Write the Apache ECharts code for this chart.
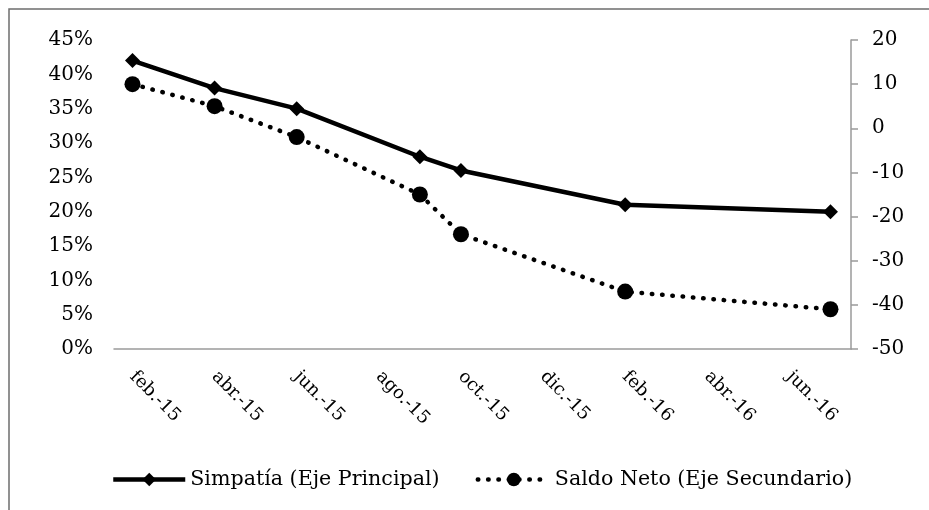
<!DOCTYPE html>
<html>
<head>
<meta charset="utf-8">
<script src="https://cdn.jsdelivr.net/npm/echarts@6/dist/echarts.min.js"></script>
<style>
html,body{margin:0;padding:0;background:#fff;}
#c{width:929px;height:510px;}
</style>
</head>
<body>
<div id="c"></div>
<script>
// months since feb-2015
const monthIndex = [0, 2, 4, 7, 8, 12, 17];
const simpatia = [42, 38, 35, 28, 26, 21, 20];      // %
const saldoNeto = [10, 5, -2, -15, -24, -37, -41];
const xTickValues = [0, 2, 4, 6, 8, 10, 12, 14, 16];
const xTickLabels = ['feb.-15', 'abr.-15', 'jun.-15', 'ago.-15', 'oct.-15', 'dic.-15', 'feb.-16', 'abr.-16', 'jun.-16'];

const FONT = '"DejaVu Serif", "Liberation Serif", serif';
const chart = echarts.init(document.getElementById('c'));
const labelMap = {};
xTickValues.forEach((v, i) => labelMap[v] = xTickLabels[i]);

chart.setOption({
  animation: false,
  backgroundColor: '#fff',
  textStyle: { fontFamily: FONT, color: '#000' },
  graphic: [{
    type: 'rect', shape: { x: 9, y: 9, width: 1000, height: 1000 },
    style: { fill: 'none', stroke: '#6e6e6e', lineWidth: 1.5 }, silent: true
  }],
  grid: { left: 114, right: 78, top: 40, bottom: 161, containLabel: false },
  legend: {
    left: 106, top: 464, itemWidth: 72, itemHeight: 17, itemGap: 36,
    textStyle: { fontFamily: FONT, fontSize: 20.6, color: '#000' },
    data: [
      { name: 'Simpatía (Eje Principal)', lineStyle: { width: 4.5 } },
      { name: 'Saldo Neto (Eje Secundario)', lineStyle: { width: 4.5 } }
    ]
  },
  xAxis: {
    type: 'value', min: -0.45, max: 17.5,
    axisLine: { show: true, lineStyle: { color: '#9a9a9a', width: 1.5 } },
    axisTick: { show: false },
    splitLine: { show: false },
    axisLabel: {
      customValues: xTickValues,
      formatter: v => labelMap[v] || '',
      rotate: -45, margin: 25,
      fontFamily: FONT, fontSize: 18, color: '#000'
    }
  },
  yAxis: [{
    type: 'value', min: 0, max: 45, interval: 5, position: 'left',
    axisLine: { show: false }, axisTick: { show: false }, splitLine: { show: false },
    axisLabel: { formatter: '{value}%', margin: 21, fontFamily: FONT, fontSize: 20, color: '#000' }
  }, {
    type: 'value', min: -50, max: 20, interval: 10, position: 'right',
    axisLine: { show: true, lineStyle: { color: '#9a9a9a', width: 1.5 } },
    axisTick: { show: true, inside: false, length: 7, lineStyle: { color: '#9a9a9a', width: 1.5 } },
    splitLine: { show: false },
    axisLabel: { margin: 21, fontFamily: FONT, fontSize: 20, color: '#000' }
  }],
  series: [{
    name: 'Simpatía (Eje Principal)', type: 'line', yAxisIndex: 0,
    data: monthIndex.map((m, i) => [m, simpatia[i]]),
    symbol: 'diamond', symbolSize: 15,
    lineStyle: { color: '#000', width: 4.5 },
    itemStyle: { color: '#000' }
  }, {
    name: 'Saldo Neto (Eje Secundario)', type: 'line', yAxisIndex: 1,
    data: monthIndex.map((m, i) => [m, saldoNeto[i]]),
    symbol: 'circle', symbolSize: 16,
    lineStyle: { color: '#000', width: 4.5, type: [0.5, 9.8], cap: 'round' },
    itemStyle: { color: '#000' }
  }]
});
</script>
</body>
</html>
